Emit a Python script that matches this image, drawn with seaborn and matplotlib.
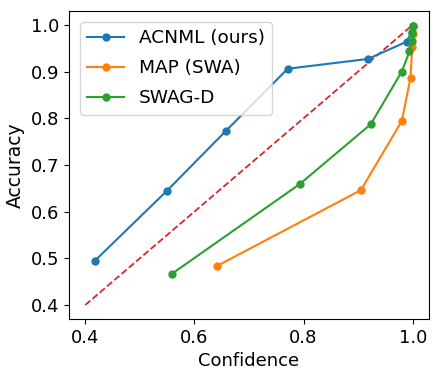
import matplotlib
matplotlib.use("Agg")
import matplotlib.pyplot as plt
import seaborn as sns
import pandas as pd

acnml_conf = [0.417, 0.550, 0.657, 0.771, 0.918, 0.989, 0.998, 1.0]
acnml_acc = [0.494, 0.645, 0.772, 0.906, 0.927, 0.964, 0.985, 0.998]
map_conf = [0.642, 0.905, 0.980, 0.996, 0.999, 1.0, 1.0]
map_acc = [0.484, 0.646, 0.794, 0.887, 0.953, 0.980, 0.997]
swag_conf = [0.559, 0.793, 0.923, 0.980, 0.994, 0.998, 0.999, 1.0]
swag_acc = [0.467, 0.659, 0.787, 0.900, 0.943, 0.965, 0.982, 0.998]
diag = [0.4, 1.0]

series = [("ACNML (ours)", acnml_conf, acnml_acc),
          ("MAP (SWA)", map_conf, map_acc),
          ("SWAG-D", swag_conf, swag_acc)]
rows = []
for name, xs, ys in series:
    for i, (x, y) in enumerate(zip(xs, ys)):
        rows.append({"method": name, "conf": x, "acc": y, "idx": i})
df = pd.DataFrame(rows)

fig = plt.figure(figsize=(4.33, 3.74), dpi=100)
ax = fig.add_axes([0.159, 0.147, 0.832, 0.824])

colors = ["#1f77b4", "#ff7f0e", "#2ca02c"]
sns.lineplot(data=df, x="conf", y="acc", hue="method", palette=colors,
             marker="o", markersize=6, markeredgewidth=0, sort=False,
             estimator=None, units="method", linewidth=1.5, ax=ax)
ax.plot(diag, diag, linestyle="--", color="#d62728", linewidth=1.3, zorder=1)

ax.set_xticks([0.4, 0.6, 0.8, 1.0])
ax.set_yticks([0.4, 0.5, 0.6, 0.7, 0.8, 0.9, 1.0])
ax.tick_params(labelsize=13)
ax.set_xlabel("Confidence", fontsize=13)
ax.set_ylabel("Accuracy", fontsize=13.5)
ax.legend(loc="upper left", fontsize=13.3, title=None, labelspacing=0.65,
          borderaxespad=0.6)
ax.set_xlim(0.37, 1.03)
ax.set_ylim(0.37, 1.03)

fig.savefig("out.png", dpi=100)
